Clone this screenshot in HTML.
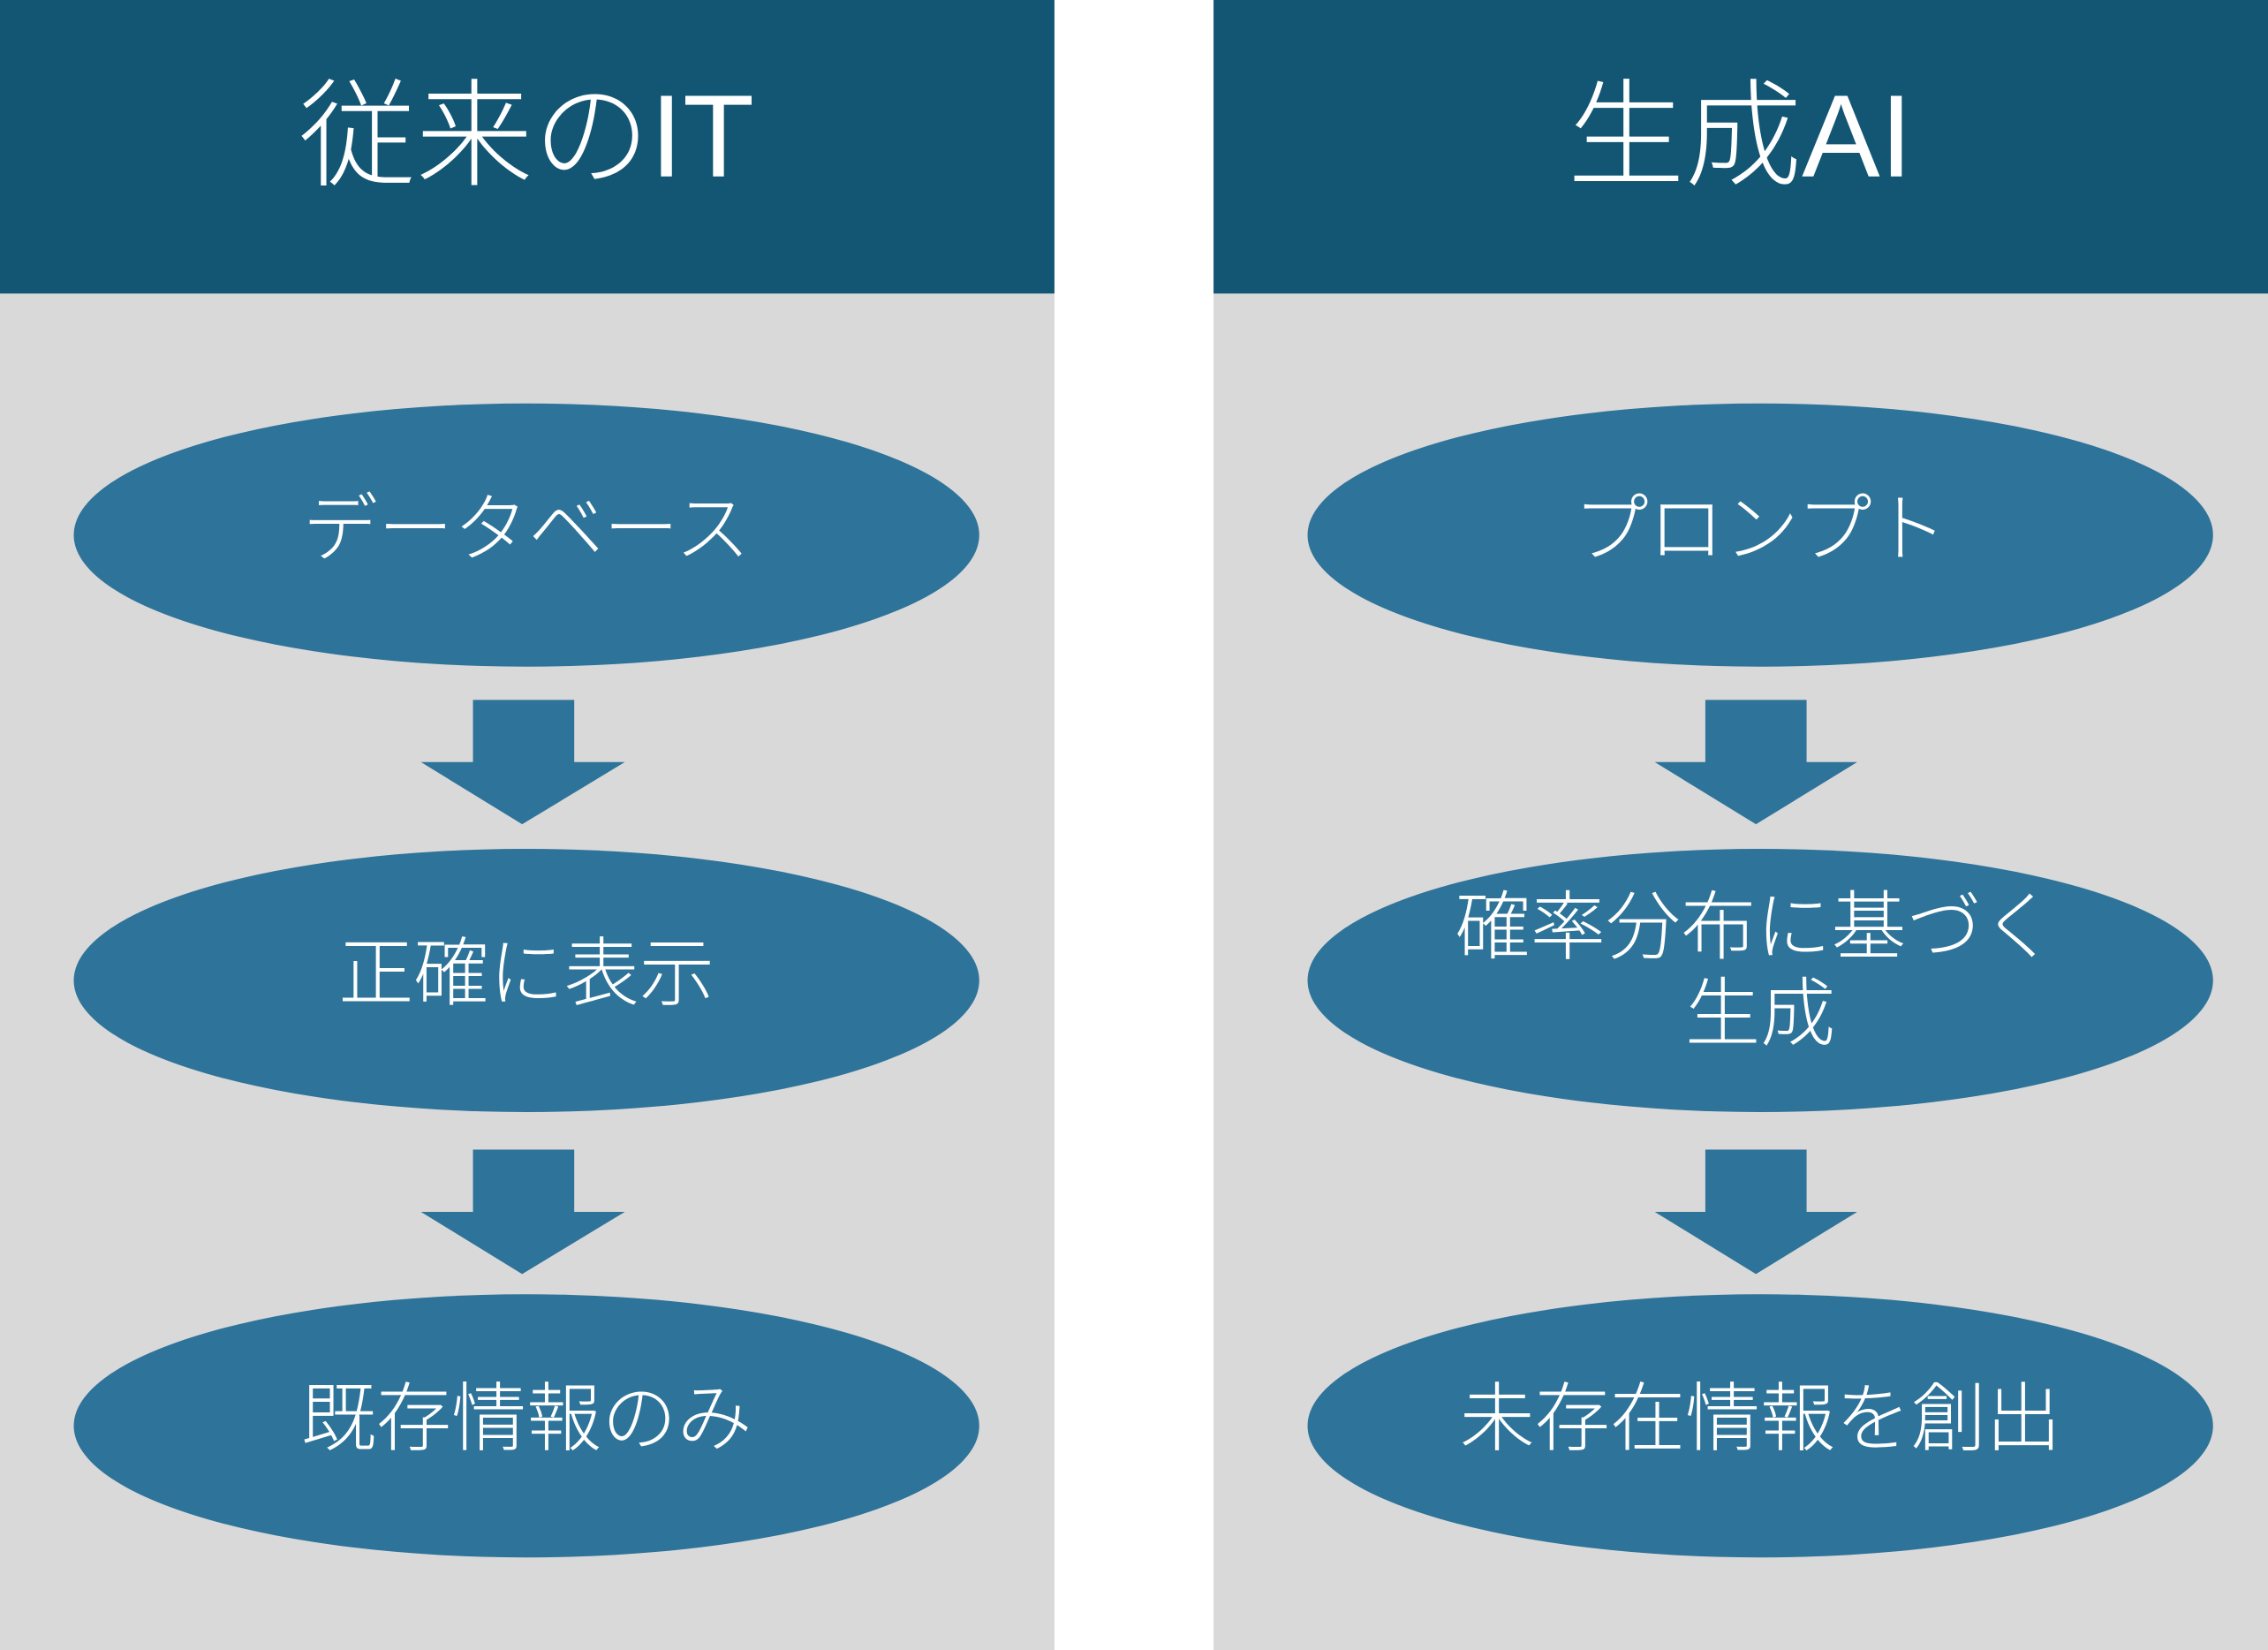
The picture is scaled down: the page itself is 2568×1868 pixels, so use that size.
<!DOCTYPE html>
<html><head><meta charset="utf-8"><style>
html,body{margin:0;padding:0;background:#fff;}
svg{display:block;}
text{font-family:"Liberation Sans","Noto Sans CJK JP",sans-serif;fill:#fff;text-anchor:middle;}
</style></head><body>
<svg width="2568" height="1868" viewBox="0 0 1568 1141" preserveAspectRatio="none" xmlns="http://www.w3.org/2000/svg">
<rect x="0" y="0" width="1568" height="1141" fill="#ffffff"/>
<rect x="0" y="203" width="729" height="938" fill="#d9d9d9"/>
<rect x="839" y="203" width="729" height="938" fill="#d9d9d9"/>
<rect x="0" y="0" width="729" height="203" fill="#135674"/>
<rect x="839" y="0" width="729" height="203" fill="#135674"/>
<text x="364" y="122" font-size="81" font-weight="300">従来のIT</text>
<text x="1203" y="122" font-size="81" font-weight="300">生成AI</text>
<g fill="#2e7399">
<ellipse cx="364" cy="370" rx="313" ry="91"/>
<ellipse cx="364" cy="678" rx="313" ry="91"/>
<ellipse cx="364" cy="986" rx="313" ry="91"/>
<ellipse cx="1217" cy="370" rx="313" ry="91"/>
<ellipse cx="1217" cy="678" rx="313" ry="91"/>
<ellipse cx="1217" cy="986" rx="313" ry="91"/>
<polygon points="327,484 397,484 397,527 432,527 361,570 291,527 327,527"/>
<polygon points="327,795 397,795 397,838 432,838 361,881 291,838 327,838"/>
<polygon points="1179,484 1249,484 1249,527 1284,527 1214,570 1144,527 1179,527"/>
<polygon points="1179,795 1249,795 1249,838 1284,838 1214,881 1144,838 1179,838"/>
</g>
<text x="364" y="384" font-size="52" font-weight="300">データベース</text>
<text x="364" y="691" font-size="52" font-weight="300">正確に表示</text>
<text x="364" y="999" font-size="52" font-weight="300">既存情報のみ</text>
<text x="1217" y="384" font-size="52" font-weight="300">プロンプト</text>
<text x="1214" y="659" font-size="52" font-weight="300">確率分布に基づく</text>
<text x="1217" y="719" font-size="52" font-weight="300">生成</text>
<text x="1217" y="999" font-size="52" font-weight="300">未存在情報を創出</text>
</svg>
</body></html>
